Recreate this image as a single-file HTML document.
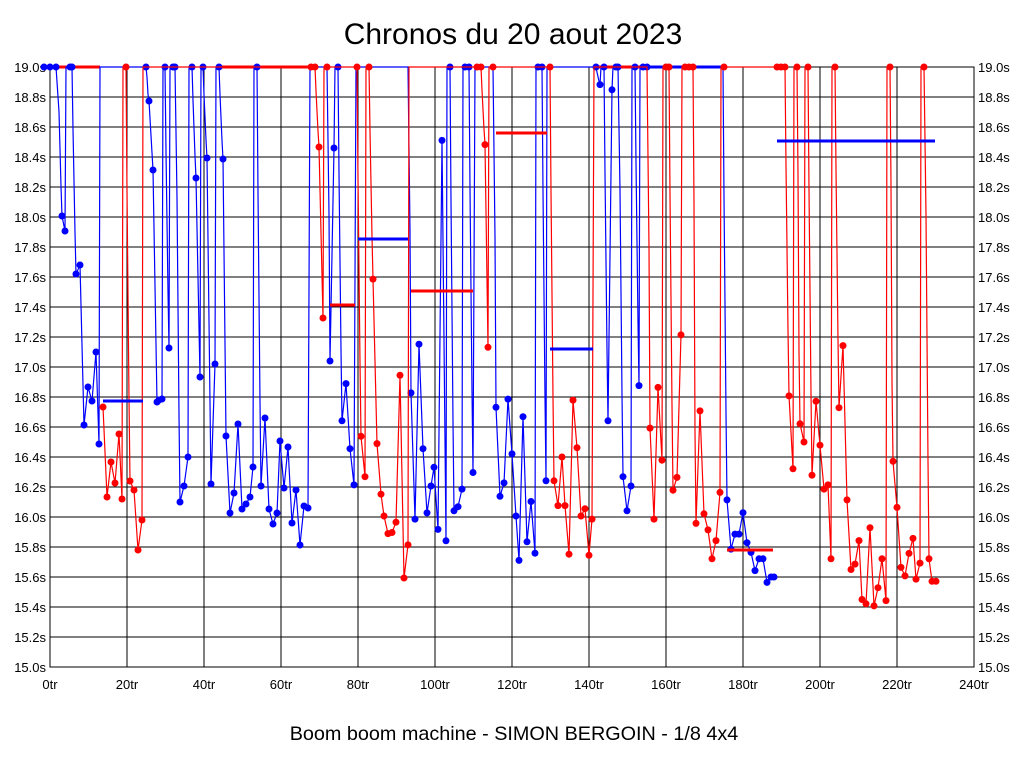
<!DOCTYPE html>
<html><head><meta charset="utf-8"><style>
body{margin:0;background:#fff;width:1024px;height:768px;overflow:hidden}
svg text{font-family:"Liberation Sans",sans-serif}
</style></head><body>
<svg id="s" width="1024" height="768" xmlns="http://www.w3.org/2000/svg">
<rect x="0" y="0" width="1024" height="768" fill="#fff"/>
<text x="513" y="44" font-size="30" text-anchor="middle">Chronos du 20 aout 2023</text>
<text x="514" y="740" font-size="19.8" text-anchor="middle">Boom boom machine - SIMON BERGOIN - 1/8 4x4</text>
<g id="grid" stroke="#000" stroke-width="1"></g>
<g id="lab" font-size="13"></g>
<g id="data"></g>
</svg>
<script>
var NS="http://www.w3.org/2000/svg";
function el(t,a,p){var e=document.createElementNS(NS,t);for(var k in a)e.setAttribute(k,a[k]);p.appendChild(e);return e;}
var g=document.getElementById('grid'),lab=document.getElementById('lab'),d=document.getElementById('data');
for(var i=0;i<=20;i++){var y=67+30*i;el('line',{x1:50,x2:974,y1:y,y2:y},g);
var v=(19-0.2*i).toFixed(1)+'s';
var t=el('text',{x:46,y:y+5,'text-anchor':'end'},lab);t.textContent=v;
t=el('text',{x:978,y:y+5},lab);t.textContent=v;}
for(var k=0;k<=12;k++){var x=50+77*k;el('line',{x1:x,x2:x,y1:67,y2:667},g);
var t=el('text',{x:x,y:689,'text-anchor':'middle'},lab);t.textContent=(20*k)+'tr';}
el('rect',{x:50,y:67,width:924,height:600,fill:'none',stroke:'#000'},g);
var blue=[[44,67],[50,67],[56,67],[62,216],[65,231],[70,67],[72,67],[76,274],[80,265],[84,425],[88,387],[92,401],[96,352],[99,444],
[146,67],[149,101],[153,170],[157,402],[159,400],[162,399],[165,67],[169,348],[173,67],[175,67],[180,502],[184,486],[188,457],[192,67],[196,178],[200,377],[203,67],[207,158],[211,484],[215,364],[219,67],[223,159],[226,436],[230,513],[234,493],[238,424],[242,509],[246,504],[250,497],[253,467],[257,67],[261,486],[265,418],[269,509],[273,524],[277,513],[280,441],[284,488],[288,447],[292,523],[296,490],[300,545],[304,506],[308,508],
[330,361],[334,148],[338,67],[342,408],[346,372],[350,435],[354,470],
[411,381],[415,503],[419,334],[423,435],[427,497],[431,471],[434,453],[438,513],[442,137],[446,524],[450,67],[454,495],[458,491],[462,474],[465,67],[469,67],[473,458],
[496,395],[500,481],[504,468],[508,387],[512,440],[516,500],[519,543],[523,404],[527,525],[531,486],[535,536],[538,67],[542,67],[546,466],
[596,67],[600,83],[604,67],[608,408],[612,88],[616,67],[618,67],[623,462],[627,495],[631,471],[635,67],[639,374],[643,67],[647,67],
[727,470],[731,516],[735,502],[739,502],[743,482],[747,510],[751,519],[755,536],[759,525],[763,525],[767,547],[771,542],[774,542]];
var red=[[103,407],[107,497],[111,462],[115,483],[119,434],[122,499],[126,67],[130,481],[134,490],[138,550],[142,520],
[311,67],[315,67],[319,147],[323,318],[327,67],[357,67],[361,423],[365,462],[369,67],[373,271],[377,430],[381,479],[384,500],[388,517],[392,516],[396,506],[400,364],[404,560],[408,528],
[477,67],[481,67],[485,141],[488,337],[493,67],
[550,67],[554,466],[558,490],[562,443],[565,490],[569,537],[573,388],[577,434],[581,500],[585,493],[589,538],[592,503],
[650,403],[654,488],[658,365],[662,433],[666,67],[669,67],[673,461],[677,449],[681,316],[685,67],[689,67],[693,67],[696,492],[700,387],[704,483],[708,498],[712,525],[716,508],[720,463],[724,67],
[777,67],[781,67],[785,67],[789,373],[793,441],[797,67],[800,399],[804,416],[808,67],[812,447],[816,378],[820,419],[824,460],[828,456],[831,525],[835,67],[839,384],[843,326],[847,470],[851,535],[855,530],[859,508],[862,563],[866,567],[870,496],[874,569],[878,552],[882,525],[886,564],[890,67],[893,434],[897,477],[901,533],[905,541],[909,520],[913,506],[916,544],[920,529],[924,67],[929,525],[932,546],[936,546]];
function fix(pts){return pts.map(function(p){var x=p[0],y=p[1];if(y<=70)return [x,67];
if(x>=340&&x<649){y=67+(3*(y-55)-33)*30/87;}else if(x>=649){y=67+(3*(y-55)-33)*30/84;}
return [x,Math.round(y*10)/10];});}
blue=fix(blue);red=fix(red);
function series(pts,col){
var p='M'+pts[0][0]+' '+pts[0][1];
for(var i=1;i<pts.length;i++){var a=pts[i-1],b=pts[i];
if(a[1]>70&&b[1]>70&&b[0]-a[0]>6){p+=' L'+(a[0]+2)+' 67 L'+(b[0]-3)+' 67 L'+(b[0]-1)+' '+(67+(b[1]-67)*0.5);}
else if(a[1]>70&&b[1]<=70){p+=' L'+(a[0]+1)+' 67';}
else if(a[1]<=70&&b[1]>70){if(b[0]-a[0]>8)p+=' L'+(b[0]-4)+' 67';var sx=Math.max(a[0],b[0]-4);p+=' L'+(sx+1)+' '+(67+(b[1]-67)*0.3)+' L'+(b[0]-1)+' '+(67+(b[1]-67)*0.8);}
p+=' L'+b[0]+' '+b[1];}
el('path',{d:p,fill:'none',stroke:col,'stroke-width':1.2},d);
pts.forEach(function(q){el('circle',{cx:q[0],cy:q[1],r:3.5,fill:col},d);});}
[[56,100,'red'],[220,312,'red'],[617,723,'blue'],[596,648,'red']].forEach(function(s){el('line',{x1:s[0],x2:s[1],y1:67,y2:67,stroke:s[2],'stroke-width':3},d);});
series(blue,'#0000ff');series(red,'#ff0000');
[[103,143,401,'#0000ff'],[330,355,305,'#ff0000'],[358,408,239,'#0000ff'],[411,473,291,'#ff0000'],[496,547,133,'#ff0000'],[550,593,349,'#0000ff'],[777,935,141,'#0000ff'],[727,773,550,'#ff0000']].forEach(function(s){el('line',{x1:s[0],x2:s[1],y1:s[2],y2:s[2],stroke:s[3],'stroke-width':3},d);});
</script>
</body></html>
